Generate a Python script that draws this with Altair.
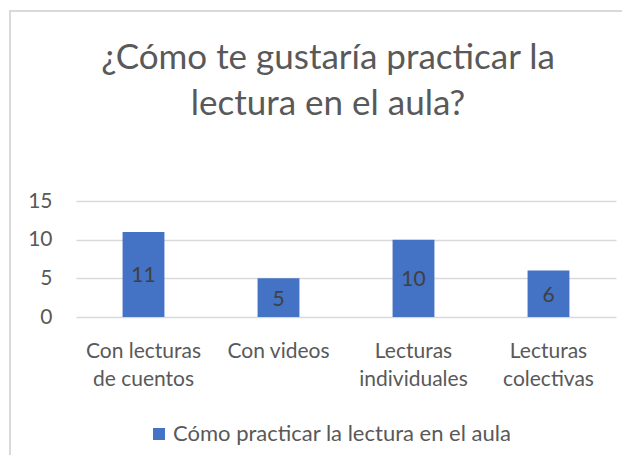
import altair as alt
import pandas as pd

categories = ["Con lecturas|de cuentos", "Con videos", "Lecturas|individuales", "Lecturas|colectivas"]
values = [11, 5, 10, 6]
series_name = "Cómo practicar la lectura en el aula"
title_lines = ["¿Cómo te gustaría practicar la", "lectura en el aula?"]
y_ticks = [0, 5, 10, 15]

df = pd.DataFrame({"cat": categories, "val": values, "series": series_name})

FONT = "Lato"
BLUE = "#4472c4"
GRAY = "#595959"
FS = 21

x_enc = alt.X("cat:N", sort=categories,
              scale=alt.Scale(paddingInner=0.69, paddingOuter=0.345),
              axis=alt.Axis(title=None, labelAngle=0, domain=False, ticks=False,
                            labelExpr="split(datum.label, '|')",
                            labelFontSize=FS, labelColor=GRAY, labelFont=FONT,
                            labelLineHeight=28, labelPadding=40, labelBaseline="alphabetic"))

y_scale = alt.Scale(domain=[0, 15], nice=False)
y_axis = alt.Axis(title=None, values=y_ticks, domain=False, ticks=False,
                  gridColor="#d9d9d9", gridWidth=1.5, labelOverlap=False,
                  labelFontSize=FS, labelColor=GRAY, labelFont=FONT,
                  labelPadding=24)

border = alt.Chart(df).mark_rect(fill="transparent", stroke="#d9d9d9", strokeWidth=1.5).encode(
    x=alt.value(-66), x2=alt.value(570), y=alt.value(-190), y2=alt.value(280)
)

title = alt.Chart(df).transform_filter("datum.val == 11").mark_text(
    fontSize=35, font=FONT, color=GRAY, align="center", baseline="alphabetic", lineHeight=46
).encode(
    x=alt.value(252), y=alt.value(-132), text=alt.value(title_lines)
)

bars = alt.Chart(df).mark_bar(color=BLUE).encode(
    x=x_enc,
    y=alt.Y("val:Q", scale=y_scale, axis=y_axis, title=None),
    color=alt.Color("series:N", scale=alt.Scale(range=[BLUE]),
                    legend=alt.Legend(title=None, orient="none", legendX=72, legendY=222,
                                      symbolType="square", symbolSize=144,
                                      symbolStrokeWidth=0, labelLimit=500,
                                      labelFontSize=22, labelColor=GRAY, labelFont=FONT,
                                      labelOffset=3)),
)

labels = alt.Chart(df).transform_calculate(mid="datum.val / 2").mark_text(
    fontSize=FS, color="#404040", font=FONT, dy=2
).encode(
    x=alt.X("cat:N", sort=categories),
    y=alt.Y("mid:Q", scale=y_scale, axis=y_axis, title=None),
    text=alt.Text("val:Q"),
)

chart = alt.layer(border, title, bars, labels).properties(
    width=540, height=116,
    autosize=alt.AutoSizeParams(type="none"),
    padding={"left": 68, "top": 193, "right": 6, "bottom": 138},
).configure_view(stroke=None)

chart.save("out.html", embed_options={"renderer": "svg", "actions": False})
